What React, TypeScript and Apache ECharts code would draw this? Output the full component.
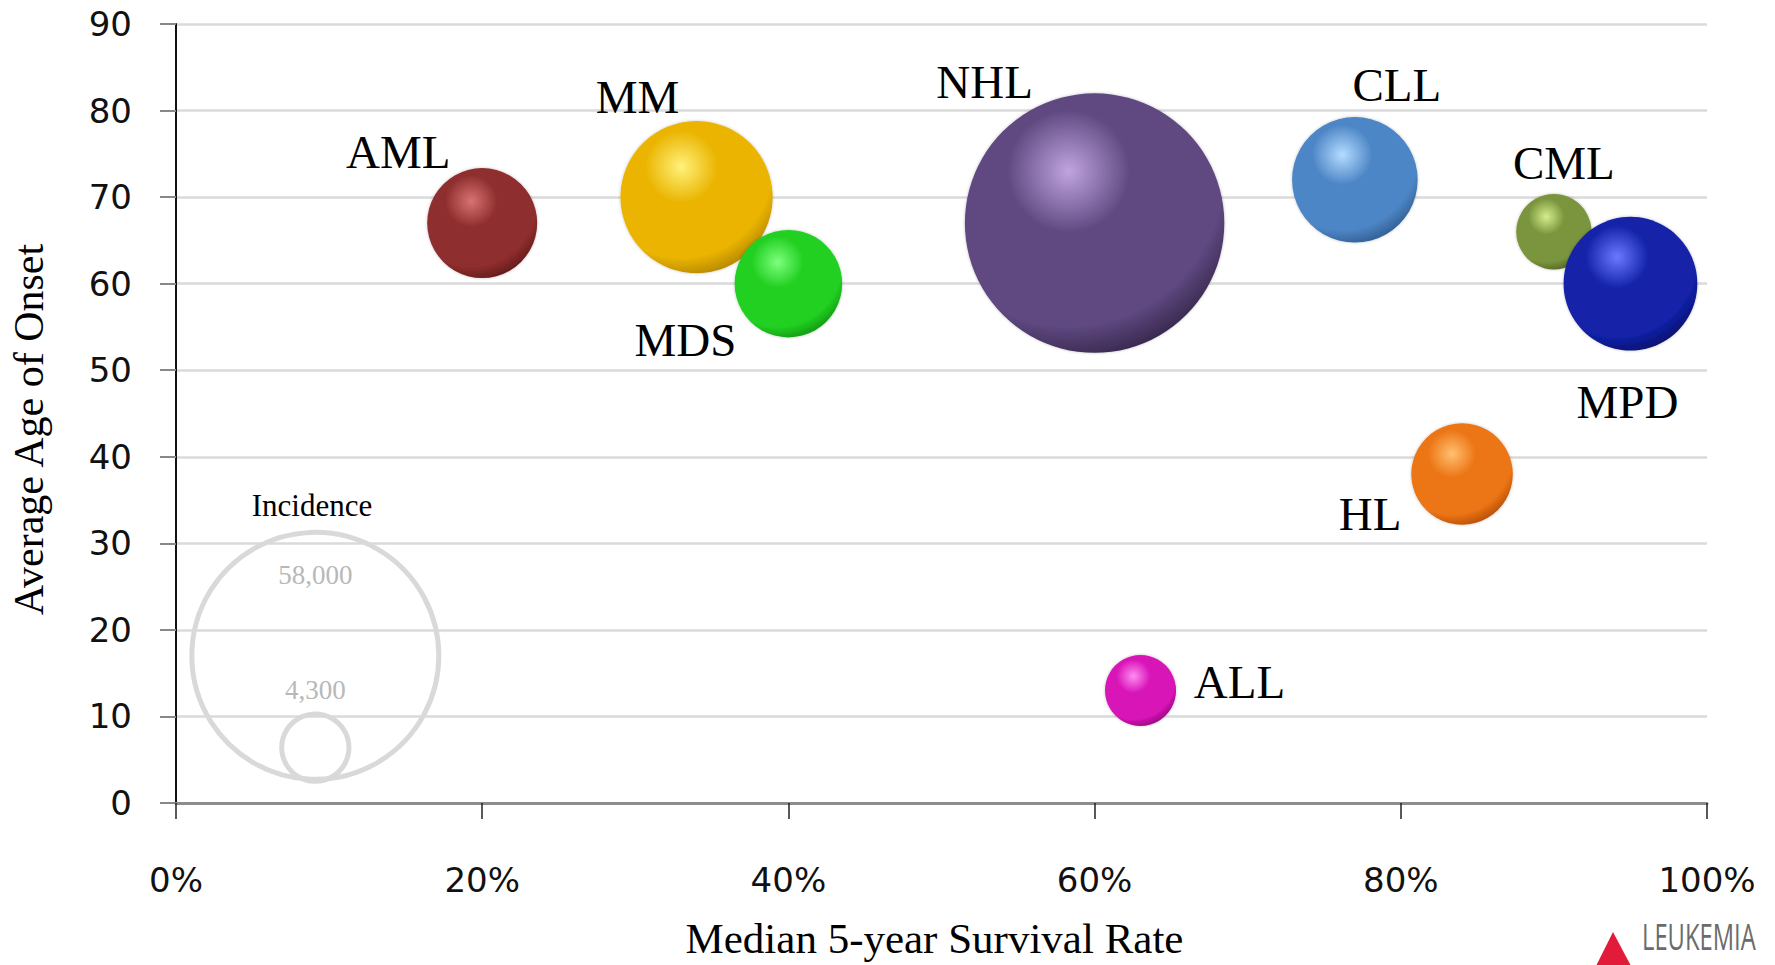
import React, { useEffect, useRef } from "react";
import * as echarts from "echarts";

// ---- data ----
const categories = ["AML", "MM", "MDS", "NHL", "CLL", "CML", "MPD", "HL", "ALL"];
const survivalRate = [20, 34, 40, 60, 77, 90, 95, 84, 63];
const onsetAge = [67, 70, 60, 67, 72, 66, 60, 38, 13];
const incidence = [11500, 22000, 11000, 64000, 15000, 5400, 17000, 9800, 4800];

const xTicks = [0, 20, 40, 60, 80, 100];
const yTicks = [0, 10, 20, 30, 40, 50, 60, 70, 80, 90];

// size legend (reference bubbles)
const legendValues = [58000, 4300];
const legendLabels = ["58,000", "4,300"];
const legendSurvival = [9.1, 9.1];
const legendAge = [17.0, 6.4];

// ---- styles ----
const SIZE_K = 1.0256; // diameter = k * sqrt(incidence)
const labelOffsets: number[][] = [
  [-84, -71],
  [-59, -100],
  [-103, 56],
  [-110, -141],
  [42, -95],
  [10, -69],
  [-3, 118],
  [-92, 40],
  [99, -8],
];
const bubbleColors: string[][] = [
  // highlight, base, edge
  ["#d97373", "#8e2d2d", "#4e1212"],
  ["#fff27a", "#eab400", "#9c7000"],
  ["#7dff7d", "#22d022", "#0b7d0b"],
  ["#c0a4e0", "#5e4880", "#231731"],
  ["#b4dcff", "#4d86c6", "#23497a"],
  ["#d4ee8c", "#7a953c", "#3f5119"],
  ["#6a78ff", "#1222a8", "#000650"],
  ["#ffc070", "#ec7414", "#9a3c00"],
  ["#ff8cf0", "#d814b8", "#76005f"],
];

const SERIF = "'Liberation Serif', 'Times New Roman', serif";
const SANS = "'DejaVu Sans', Verdana, sans-serif";

export default function App() {
  const ref = useRef<HTMLDivElement>(null);

  useEffect(() => {
    document.body.style.margin = "0";
    if (!ref.current) return;
    const chart = echarts.init(ref.current, undefined, { renderer: "svg" });

    const bubbleData = categories.map((name, i) => {
      const c = bubbleColors[i];
      return {
        name,
        value: [survivalRate[i], onsetAge[i], incidence[i]],
        itemStyle: {
          opacity: 1,
          color: {
            type: "radial",
            x: 0.4,
            y: 0.3,
            r: 0.8,
            colorStops: [
              { offset: 0, color: c[0] },
              { offset: 0.3, color: c[1] },
              { offset: 0.75, color: c[1] },
              { offset: 1, color: c[2] },
            ],
          },
        },
        label: { offset: labelOffsets[i] },
      };
    });

    const legendData = legendValues.map((v, i) => ({
      name: legendLabels[i],
      value: [legendSurvival[i], legendAge[i], v],
      label: { offset: i === 0 ? [0, -81] : [0, -58] },
    }));

    chart.setOption({
      animation: false,
      backgroundColor: "#ffffff",
      grid: { left: 176, right: 68, top: 24, bottom: 158, containLabel: false },
      xAxis: {
        type: "value",
        min: xTicks[0],
        max: xTicks[xTicks.length - 1],
        interval: 20,
        name: "Median 5-year Survival Rate",
        nameLocation: "middle",
        nameGap: 114,
        nameTextStyle: {
          fontFamily: SERIF,
          fontSize: 43,
          color: "#000",
          padding: [0, 14, 0, 0],
        },
        axisLine: { show: true, lineStyle: { color: "#8c8c8c", width: 3 } },
        axisTick: { show: true, length: 16, lineStyle: { color: "#222", width: 1.5 } },
        axisLabel: {
          margin: 60,
          fontFamily: SANS,
          fontSize: 34,
          color: "#111",
          formatter: "{value}%",
        },
        splitLine: { show: false },
      },
      yAxis: {
        type: "value",
        min: yTicks[0],
        max: yTicks[yTicks.length - 1],
        interval: 10,
        name: "Average Age of Onset",
        nameLocation: "middle",
        nameGap: 126,
        nameTextStyle: {
          fontFamily: SERIF,
          fontSize: 42,
          color: "#000",
          padding: [0, 32, 0, 0],
        },
        axisLine: { show: true, lineStyle: { color: "#111", width: 2 } },
        axisTick: { show: true, length: 16, lineStyle: { color: "#888", width: 2 } },
        axisLabel: { margin: 44, fontFamily: SANS, fontSize: 34, color: "#111" },
        splitLine: { show: true, lineStyle: { color: "#dadada", width: 2.5 } },
      },
      series: [
        {
          type: "scatter",
          name: "Incidence",
          z: 1,
          data: legendData,
          symbolSize: (v: number[]) => SIZE_K * Math.sqrt(v[2]),
          itemStyle: {
            opacity: 1,
            color: "rgba(0,0,0,0)",
            borderColor: "#d9d9d9",
            borderWidth: 5,
          },
          label: {
            show: true,
            position: "inside",
            formatter: (p: any) => p.name,
            fontFamily: SERIF,
            fontSize: 27,
            color: "#b8b8b8",
          },
          emphasis: { disabled: true },
          silent: true,
        },
        {
          type: "scatter",
          name: "Leukemia",
          z: 3,
          data: bubbleData,
          symbolSize: (v: number[]) => SIZE_K * Math.sqrt(v[2]),
          itemStyle: { opacity: 1, shadowBlur: 3, shadowColor: "rgba(0,0,0,0.25)" },
          label: {
            show: true,
            position: "inside",
            formatter: (p: any) => p.name,
            fontFamily: SERIF,
            fontSize: 47,
            color: "#000",
          },
          emphasis: { disabled: true },
        },
      ],
      graphic: [
        {
          type: "text",
          x: 312,
          y: 505,
          z: 10,
          style: {
            text: "Incidence",
            font: `31px ${SERIF}`,
            fill: "#000",
            textAlign: "center",
            textVerticalAlign: "middle",
          },
        },
        {
          type: "polygon",
          z: 10,
          shape: {
            points: [
              [1596, 966],
              [1613, 932],
              [1631, 966],
            ],
          },
          style: { fill: "#e31b3b" },
        },
        {
          type: "text",
          x: 1642,
          y: 936,
          z: 10,
          scaleX: 0.66,
          style: {
            text: "LEUKEMIA",
            font: `36px 'Open Sans', 'DejaVu Sans', sans-serif`,
            fill: "#6b6b6b",
            textAlign: "left",
            textVerticalAlign: "middle",
          },
        },
      ],
    });

    return () => chart.dispose();
  }, []);

  return <div ref={ref} style={{ width: 1775, height: 965 }} />;
}
